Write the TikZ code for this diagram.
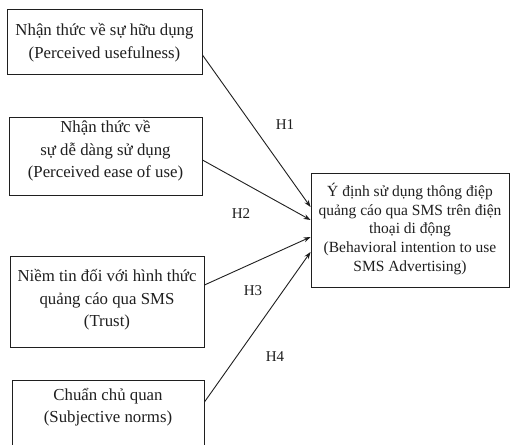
\documentclass[tikz,border=0pt]{standalone}
\usepackage{fontspec}
\setmainfont{Liberation Serif}
\usetikzlibrary{arrows.meta}
\definecolor{ink}{gray}{0.12}
\tikzset{
  srcbox/.style={draw=ink, line width=0.9pt, inner sep=0pt},
  srctext/.style={text=ink, align=center, font=\fontsize{16.8}{22.5}\selectfont},
  tgtbox/.style={draw=ink, line width=0.9pt, inner sep=0pt},
  tgttext/.style={text=ink, align=center, font=\fontsize{15.5}{18.6}\selectfont},
  link/.style={draw=ink, line width=0.9pt, -{Stealth[length=7pt,width=5pt]}},
  hyp/.style={text=ink, font=\fontsize{15}{18}\selectfont, inner sep=0pt}
}
\begin{document}
\begin{tikzpicture}[x=1pt,y=-1pt]
\useasboundingbox[fill=white] (0,0) rectangle (510,444);
% source boxes
\node[srcbox, minimum width=195pt, minimum height=65pt] (b1) at (104.5,41.5) {};
\node[srctext] (t1) at (104.5,42.5) {Nhận thức về sự hữu dụng\\(Perceived usefulness)};
\node[srcbox, minimum width=193pt, minimum height=78pt] (b2) at (105.5,156) {};
\node[srctext] (t2) at (105.5,151) {Nhận thức về\\sự dễ dàng sử dụng\\(Perceived ease of use)};
\node[srcbox, minimum width=194pt, minimum height=91pt] (b3) at (107,301.5) {};
\node[srctext] (t3) at (107,300) {Niềm tin đối với hình thức\\quảng cáo qua SMS\\(Trust)};
\node[srcbox, minimum width=192pt, minimum height=72pt] (b4) at (108,416) {};
\node[srctext] (t4) at (108,407) {Chuẩn chủ quan\\(Subjective norms)};
% target box
\node[tgtbox, minimum width=198pt, minimum height=114pt] (tg) at (410,230) {};
\node[tgttext] (tt) at (410,229) {Ý định sử dụng thông điệp\\quảng cáo qua SMS trên điện\\thoại di động\\(Behavioral intention to use\\SMS Advertising)};
% connectors
\draw[link] ([yshift=-13.5pt]b1.east) -- ([yshift=23pt]tg.west);
\draw[link] ([yshift=-4pt]b2.east) -- ([yshift=10pt]tg.west);
\draw[link] ([yshift=16.5pt]b3.east) -- ([yshift=-7pt]tg.west);
\draw[link] ([yshift=14pt]b4.east) -- ([yshift=-22pt]tg.west);
% labels
\node[hyp] (h1) at (285,125) {H1};
\node[hyp] (h2) at (241,214) {H2};
\node[hyp] (h3) at (253,291) {H3};
\node[hyp] (h4) at (275,357) {H4};
\end{tikzpicture}
\end{document}
